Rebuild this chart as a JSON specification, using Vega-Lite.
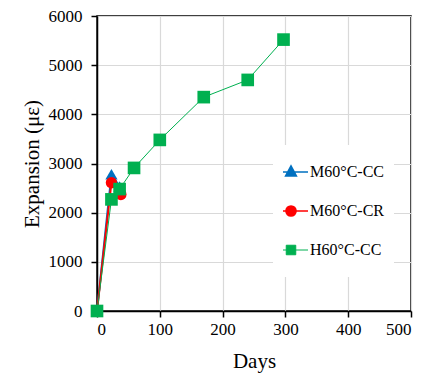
{
  "$schema": "https://vega.github.io/schema/vega-lite/v6.json",
  "width": 314,
  "height": 295,
  "autosize": {"type": "none"},
  "padding": {"left": 97, "top": 16, "right": 17, "bottom": 62},
  "background": "white",
  "config": {
    "view": {"stroke": "black", "strokeWidth": 1.5},
    "font": "Liberation Serif",
    "legend": {"symbolSize": 1156, "clipHeight": 34, "symbolType": "circle"},
    "axis": {
      "domainColor": "black",
      "domainWidth": 1.5,
      "tickColor": "black",
      "tickWidth": 1.5,
      "tickSize": 6,
      "gridColor": "#d9d9d9",
      "gridWidth": 1.2,
      "labelFont": "Liberation Serif",
      "labelFontSize": 17,
      "labelColor": "black",
      "titleFont": "Liberation Serif",
      "titleFontSize": 21,
      "titleFontWeight": "normal",
      "titleColor": "black"
    }
  },
  "data": {
    "values": [
      {"series": "M60°C-CC", "day": 0, "value": 0},
      {"series": "M60°C-CC", "day": 23, "value": 2780},
      {"series": "M60°C-CC", "day": 36, "value": 2530},
      {"series": "M60°C-CR", "day": 0, "value": 0},
      {"series": "M60°C-CR", "day": 23, "value": 2610},
      {"series": "M60°C-CR", "day": 38, "value": 2370},
      {"series": "H60°C-CC", "day": 0, "value": 0},
      {"series": "H60°C-CC", "day": 23, "value": 2270},
      {"series": "H60°C-CC", "day": 36, "value": 2480},
      {"series": "H60°C-CC", "day": 59, "value": 2910},
      {"series": "H60°C-CC", "day": 100, "value": 3480},
      {"series": "H60°C-CC", "day": 170, "value": 4350},
      {"series": "H60°C-CC", "day": 240, "value": 4700},
      {"series": "H60°C-CC", "day": 297, "value": 5520}
    ]
  },
  "encoding": {
    "x": {
      "field": "day",
      "type": "quantitative",
      "scale": {"domain": [0, 500], "nice": false},
      "axis": {"values": [0, 100, 200, 300, 400, 500], "format": "d", "title": "Days", "labelPadding": 4, "titlePadding": 13}
    },
    "y": {
      "field": "value",
      "type": "quantitative",
      "scale": {"domain": [0, 6000], "nice": false},
      "axis": {"values": [0, 1000, 2000, 3000, 4000, 5000, 6000], "format": "d", "title": "Expansion (με)", "labelPadding": 9, "titlePadding": 6}
    },
    "color": {
      "field": "series",
      "type": "nominal",
      "scale": {"domain": ["M60°C-CC", "M60°C-CR", "H60°C-CC"], "range": ["#0070C0", "#FF0000", "#00B050"]},
      "legend": null
    }
  },
  "layer": [
    {
      "mark": {"type": "line", "strokeWidth": 2},
      "transform": [{"filter": "datum.series !== 'H60°C-CC'"}],
      "encoding": {
        "color": {
          "field": "series",
          "type": "nominal",
          "scale": {"domain": ["M60°C-CC", "M60°C-CR", "H60°C-CC"], "range": ["#0070C0", "#FF0000", "#00B050"]},
          "legend": {
            "orient": "none",
            "legendX": 176,
            "legendY": 129,
            "title": null,
            "fillColor": "white",
            "padding": 10,
            "symbolSize": 1156,
            "symbolType": "circle",
            "rowPadding": 5,
            "labelFontSize": 16,
            "labelFont": "Liberation Serif",
            "labelColor": "black",
            "labelOffset": 11,
            "symbolStrokeWidth": 1.5,
            "encode": {
              "symbols": {
                "update": {
                  "shape": {"signal": "datum.value === 'M60°C-CC' ? 'M-1,0H1M0,-0.36L0.32,0.24L-0.32,0.24Z' : datum.value === 'M60°C-CR' ? 'M-1,0H1M0.3,0A0.3,0.3,0,1,1,-0.3,0A0.3,0.3,0,1,1,0.3,0Z' : 'M-1,0H1M-0.28,-0.28H0.28V0.28H-0.28Z'"},
                  "fill": {"signal": "scale('color', datum.value)"},
                  "stroke": {"signal": "scale('color', datum.value)"},
                  "strokeWidth": {"signal": "datum.value === 'H60°C-CC' ? 1 : 1.5"},
                  "opacity": {"value": 1}
                }
              }
            }
          }
        }
      }
    },
    {
      "transform": [{"filter": "datum.series === 'H60°C-CC'"}],
      "mark": {"type": "line", "strokeWidth": 1}
    },
    {
      "transform": [{"filter": "datum.series === 'M60°C-CC'"}],
      "mark": {"type": "point", "filled": true, "opacity": 1, "size": 150, "shape": "triangle-up"}
    },
    {
      "transform": [{"filter": "datum.series === 'M60°C-CR'"}],
      "mark": {"type": "point", "filled": true, "opacity": 1, "size": 130, "shape": "circle"}
    },
    {
      "transform": [{"filter": "datum.series === 'H60°C-CC'"}],
      "mark": {"type": "point", "filled": true, "opacity": 1, "size": 160, "shape": "square"}
    }
  ]
}
